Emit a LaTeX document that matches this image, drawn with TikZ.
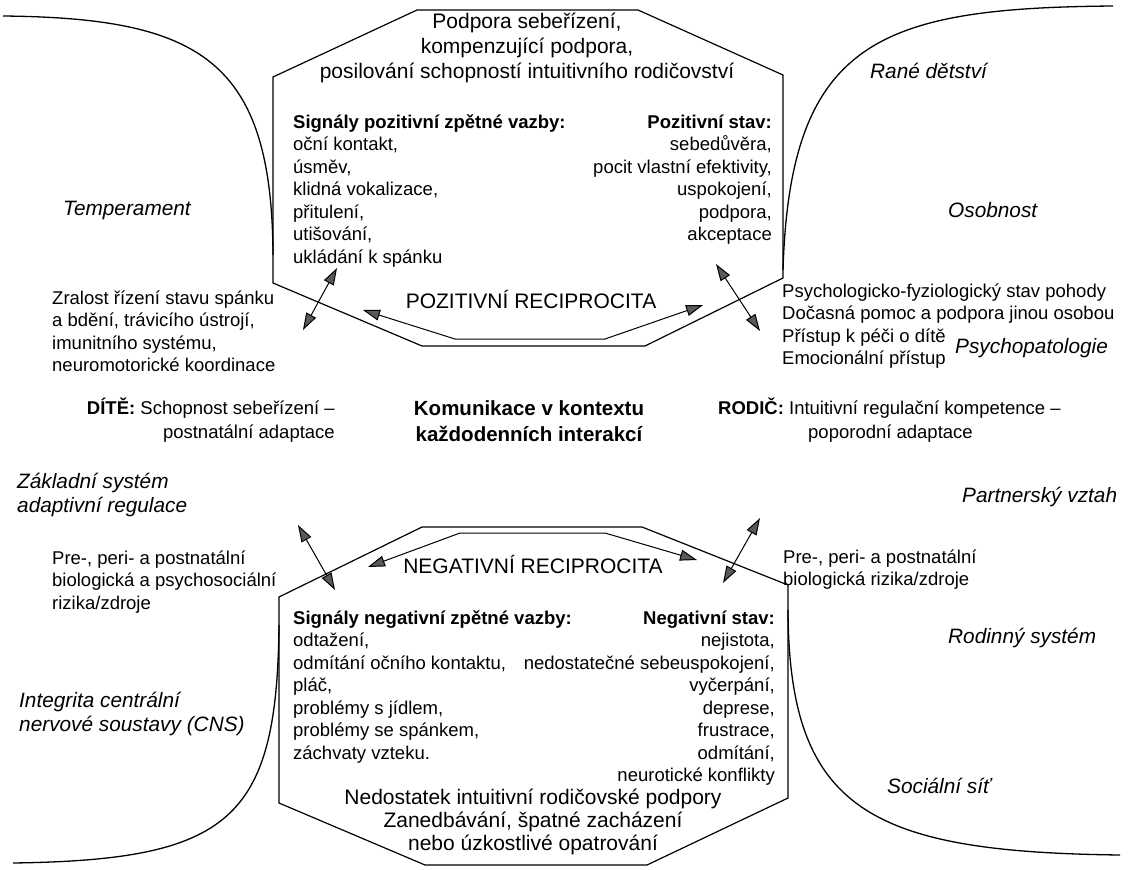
\documentclass[tikz,border=0pt]{standalone}
\usepackage{fontspec}
\setmainfont{Liberation Sans}
\usetikzlibrary{arrows.meta}
\newcommand{\mylines}[2]{\begin{tabular}[t]{@{}#1@{}}#2\end{tabular}}
\tikzset{
  txt/.style={inner sep=0pt, font=\fontsize{18.5}{22.5}\selectfont},
  midt/.style={inner sep=0pt, font=\fontsize{18.5}{24}\selectfont},
  head/.style={inner sep=0pt, font=\fontsize{21}{25}\selectfont},
  headb/.style={inner sep=0pt, font=\fontsize{21}{23}\selectfont},
  lab/.style={inner sep=0pt, font=\fontsize{20.8}{24.5}\selectfont\itshape},
  midb/.style={inner sep=0pt, font=\fontsize{20.5}{26}\selectfont\bfseries},
  oct/.style={line width=1.2pt, line join=miter},
  crv/.style={line width=1.3pt},
  dbl/.style={line width=1pt,
    {Triangle[length=17pt,width=11pt,fill=black!65]}-{Triangle[length=17pt,width=11pt,fill=black!65]}},
}
\begin{document}
\begin{tikzpicture}[x=1pt,y=-1pt]
\useasboundingbox (0,0) rectangle (1136,870);
\fill[white] (0,0) rectangle (1136,870);

% top octagon
\coordinate (t1) at (417,10);  \coordinate (t2) at (638,10);
\coordinate (t3) at (783,75);  \coordinate (t4) at (783,278);
\coordinate (t5) at (645,346); \coordinate (t6) at (422,346);
\coordinate (t7) at (273,283); \coordinate (t8) at (273,77);
\draw[oct] (t1)--(t2)--(t3)--(t4)--(t5)--(t6)--(t7)--(t8)--cycle;

% bottom octagon
\coordinate (b1) at (422,527);  \coordinate (b2) at (642,527);
\coordinate (b3) at (788,585);  \coordinate (b4) at (788,798);
\coordinate (b5) at (647,865);  \coordinate (b6) at (425,865);
\coordinate (b7) at (279,803);  \coordinate (b8) at (279,597);
\draw[oct] (b1)--(b2)--(b3)--(b4)--(b5)--(b6)--(b7)--(b8)--cycle;

% curves
\coordinate (c1s) at (3,16);     \coordinate (c1e) at (273,255);
\coordinate (c2s) at (1113,6);   \coordinate (c2e) at (783,270);
\coordinate (c3s) at (13,863);   \coordinate (c3e) at (279,625);
\coordinate (c4s) at (1120,855); \coordinate (c4e) at (788,610);
\draw[crv] (c1s) .. controls (200,18) and (272,60) .. (c1e);
\draw[crv] (c2s) .. controls (880,8) and (790,40) .. (c2e);
\draw[crv] (c3s) .. controls (230,860) and (277,820) .. (c3e);
\draw[crv] (c4s) .. controls (870,852) and (789,810) .. (c4e);

% reciprocity arrows
\coordinate (pa1) at (363,310); \coordinate (pa2) at (455,339);
\coordinate (pa3) at (605,339); \coordinate (pa4) at (703,305);
\draw[dbl] (pa1)--(pa2)--(pa3)--(pa4);
\coordinate (na1) at (368,567); \coordinate (na2) at (460,533);
\coordinate (na3) at (605,533); \coordinate (na4) at (697,560);
\draw[dbl] (na1)--(na2)--(na3)--(na4);

% diagonal arrows
\coordinate (d1a) at (337,268); \coordinate (d1b) at (303,330);
\coordinate (d2a) at (716,264); \coordinate (d2b) at (760,331);
\coordinate (d3a) at (298,525); \coordinate (d3b) at (335,590);
\coordinate (d4a) at (760,518); \coordinate (d4b) at (723,583);
\draw[dbl] (d1a)--(d1b);
\draw[dbl] (d2a)--(d2b);
\draw[dbl] (d3a)--(d3b);
\draw[dbl] (d4a)--(d4b);

% top octagon text
\node[head, anchor=base] (hdtop) at (527,28) {\mylines{c}{Podpora sebeřízení,\\ kompenzující podpora,\\ posilování schopností intuitivního rodičovství}};
\node[txt, anchor=base west] (sigpos) at (293,128) {\mylines{l}{\textbf{Signály pozitivní zpětné vazby:}\\ oční kontakt,\\ úsměv,\\ klidná vokalizace,\\ přitulení,\\ utišování,\\ ukládání k spánku}};
\node[txt, anchor=base east] (stpos) at (772,128) {\mylines{r}{\textbf{Pozitivní stav:}\\ sebedůvěra,\\ pocit vlastní efektivity,\\ uspokojení,\\ podpora,\\ akceptace}};
\node[head, anchor=base] (posrec) at (531,308) {POZITIVNÍ RECIPROCITA};

% left side
\node[lab, anchor=base west] (temp) at (63,215) {Temperament};
\node[txt, anchor=base west] (zral) at (52,304) {\mylines{l}{Zralost řízení stavu spánku\\ a bdění, trávicího ústrojí,\\ imunitního systému,\\ neuromotorické koordinace}};
\node[midt, anchor=base east] (dite) at (335,414) {\mylines{r}{\textbf{DÍTĚ:} Schopnost sebeřízení –\\ postnatální adaptace}};
\node[lab, anchor=base west] (zakl) at (17,488) {\mylines{l}{Základní systém\\ adaptivní regulace}};
\node[txt, anchor=base west] (preL) at (52,564) {\mylines{l}{Pre-, peri- a postnatální\\ biologická a psychosociální\\ rizika/zdroje}};
\node[lab, anchor=base west] (integ) at (19,707) {\mylines{l}{Integrita centrální\\ nervové soustavy (CNS)}};

% centre
\node[midb, anchor=base] (kom) at (529,415) {\mylines{c}{Komunikace v kontextu\\ každodenních interakcí}};

% right side
\node[lab, anchor=base west] (rane) at (870,78) {Rané dětství};
\node[lab, anchor=base west] (osob) at (948,217) {Osobnost};
\node[txt, anchor=base west] (psyf) at (782,297) {\mylines{l}{Psychologicko-fyziologický stav pohody\\ Dočasná pomoc a podpora jinou osobou\\ Přístup k péči o dítě\\ Emocionální přístup}};
\node[lab, anchor=base west] (psyp) at (955,353) {Psychopatologie};
\node[midt, anchor=base west] (rodic) at (718,414) {\textbf{RODIČ:} Intuitivní regulační kompetence –};
\node[midt, anchor=base west] (rodic2) at (808,438) {poporodní adaptace};
\node[lab, anchor=base west] (partn) at (962,502) {Partnerský vztah};
\node[txt, anchor=base west] (preR) at (783,563) {\mylines{l}{Pre-, peri- a postnatální\\ biologická rizika/zdroje}};
\node[lab, anchor=base west] (rodin) at (948,643) {Rodinný systém};
\node[lab, anchor=base west] (soc) at (887,793) {Sociální síť};

% bottom octagon text
\node[head, anchor=base] (negrec) at (533,573) {NEGATIVNÍ RECIPROCITA};
\node[txt, anchor=base west] (signeg) at (293,624) {\mylines{l}{\textbf{Signály negativní zpětné vazby:}\\ odtažení,\\ odmítání očního kontaktu,\\ pláč,\\ problémy s jídlem,\\ problémy se spánkem,\\ záchvaty vzteku.}};
\node[txt, anchor=base east] (stneg) at (775,624) {\mylines{r}{\textbf{Negativní stav:}\\ nejistota,\\ nedostatečné sebeuspokojení,\\ vyčerpání,\\ deprese,\\ frustrace,\\ odmítání,\\ neurotické konflikty}};
\node[headb, anchor=base] (hdbot) at (533,804) {\mylines{c}{Nedostatek intuitivní rodičovské podpory\\ Zanedbávání, špatné zacházení\\ nebo úzkostlivé opatrování}};
\end{tikzpicture}
\end{document}
